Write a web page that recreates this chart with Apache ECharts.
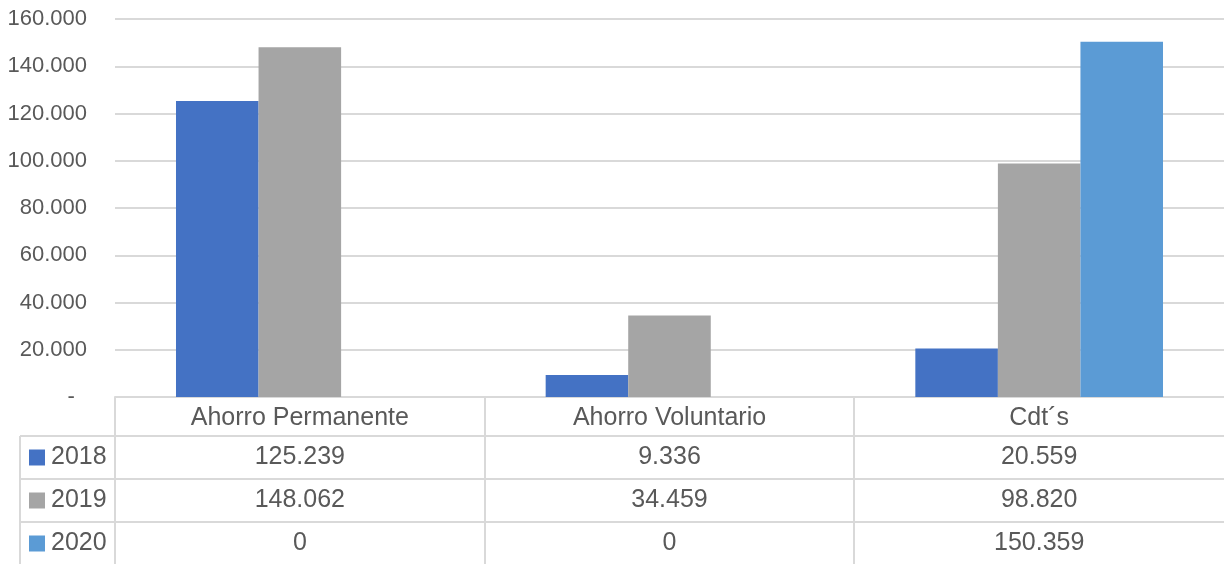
<!DOCTYPE html>
<html>
<head>
<meta charset="utf-8">
<script src="https://cdn.jsdelivr.net/npm/echarts@6/dist/echarts.min.js"></script>
<style>
  html, body { margin: 0; padding: 0; background: #fff; }
  #chart { width: 1224px; height: 564px; }
</style>
</head>
<body>
<div id="chart"></div>
<script>
// data
const categories = ['Ahorro Permanente', 'Ahorro Voluntario', 'Cdt´s']
const years = ['2018', '2019', '2020']
const values2018 = [125239, 9336, 20559]
const values2019 = [148062, 34459, 98820]
const values2020 = [0, 0, 150359]
const yTicks = [0, 20000, 40000, 60000, 80000, 100000, 120000, 140000, 160000]

const colors = ['#4472C4', '#A5A5A5', '#5B9BD5']
const seriesData = [values2018, values2019, values2020]
const textColor = '#595959'
const lineColor = '#d9d9d9'
const font = 'Liberation Sans'

// miles con punto
function fmt(v) {
  if (v === 0) return '0'
  return String(v).replace(/\B(?=(\d{3})+(?!\d))/g, '.')
}

const chart = echarts.init(document.getElementById('chart'))

const option = {
  animation: false,
  textStyle: { fontFamily: font },
  grid: { left: 115, right: 0, top: 19, bottom: 167 },
  xAxis: {
    type: 'category',
    data: categories,
    axisTick: { show: false },
    axisLine: { show: true, lineStyle: { color: lineColor, width: 2 } },
    axisLabel: { color: textColor, fontSize: 25, margin: 9, fontFamily: font }
  },
  yAxis: {
    type: 'value',
    min: yTicks[0],
    max: yTicks[yTicks.length - 1],
    interval: 20000,
    axisLine: { show: false },
    axisTick: { show: false },
    splitLine: { lineStyle: { color: lineColor, width: 2 } },
    axisLabel: {
      color: textColor,
      fontSize: 22,
      margin: 28,
      fontFamily: font,
      formatter: v => v === 0 ? '-  ' : fmt(v)
    }
  },
  series: years.map((y, i) => ({
    name: y,
    type: 'bar',
    data: seriesData[i],
    barGap: 0,
    barCategoryGap: '33%',
    itemStyle: { color: colors[i] }
  }))
}

chart.setOption(option)

// tabla de datos debajo del eje
function buildTable() {
  const top = 397, rowH = 43, headH = 39
  const left = 115, right = 1224, legendLeft = 20
  const colW = (right - left) / categories.length
  const els = []
  const line = (x1, y1, x2, y2) => els.push({
    type: 'line', silent: true,
    shape: { x1, y1, x2, y2 },
    style: { stroke: lineColor, lineWidth: 2 }
  })
  // verticales
  for (let c = 0; c < categories.length; c++) {
    const x = Math.round(left + c * colW)
    line(x, top, x, 564)
  }
  line(legendLeft, top + headH, legendLeft, 564)
  // horizontales
  for (let r = 0; r < years.length; r++) {
    const y = top + headH + r * rowH
    line(legendLeft, y, right, y)
  }
  // filas
  years.forEach((yr, r) => {
    const cy = top + headH + r * rowH + rowH / 2
    els.push({
      type: 'rect', silent: true,
      shape: { x: 29, y: cy - 8, width: 16, height: 16 },
      style: { fill: colors[r] }
    })
    els.push({
      type: 'text', silent: true,
      x: 51, y: cy,
      style: { text: yr, fill: textColor, font: '25px ' + font, verticalAlign: 'middle', align: 'left' }
    })
    categories.forEach((cat, c) => {
      const cx = chart.convertToPixel({ xAxisIndex: 0 }, cat)
      els.push({
        type: 'text', silent: true,
        x: cx, y: cy,
        style: { text: fmt(seriesData[r][c]), fill: textColor, font: '25px ' + font, verticalAlign: 'middle', align: 'center' }
      })
    })
  })
  chart.setOption({ graphic: els })
}

buildTable()
</script>
</body>
</html>
